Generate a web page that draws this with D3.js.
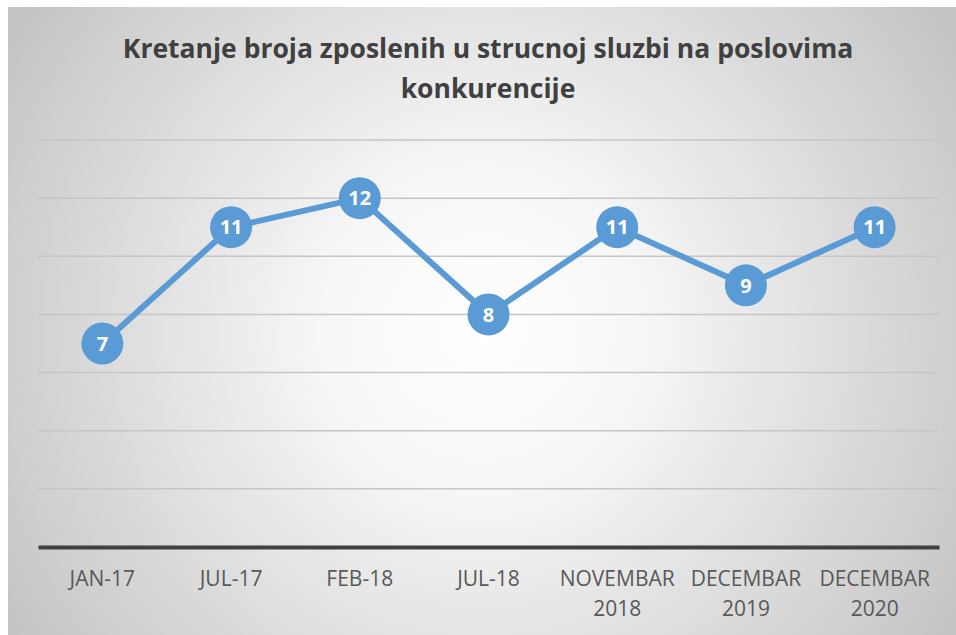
<!DOCTYPE html>
<html><head><meta charset="utf-8">
<script src="https://cdn.jsdelivr.net/npm/d3@7"></script>
<style>html,body{margin:0;padding:0;background:#fff;}svg{display:block;}</style>
</head><body>
<svg id="chart" width="956" height="635"></svg>
<script>
const titleLines = ["Kretanje broja zposlenih u strucnoj sluzbi na poslovima", "konkurencije"];
const categories = ["JAN-17", "JUL-17", "FEB-18", "JUL-18", "NOVEMBAR 2018", "DECEMBAR 2019", "DECEMBAR 2020"];
const values = [7, 11, 12, 8, 11, 9, 11];
const yTicks = [0, 2, 4, 6, 8, 10, 12, 14];

const svg = d3.select("#chart");
const defs = svg.append("defs");
const grad = defs.append("radialGradient").attr("id", "bg")
  .attr("gradientUnits", "userSpaceOnUse")
  .attr("cx", 482).attr("cy", 330).attr("r", 560);
grad.append("stop").attr("offset", "0").attr("stop-color", "#ffffff");
grad.append("stop").attr("offset", "0.28").attr("stop-color", "#f7f7f7");
grad.append("stop").attr("offset", "1").attr("stop-color", "#c4c4c4");

svg.append("rect").attr("x", 8).attr("y", 7).attr("width", 948).attr("height", 628).attr("fill", "url(#bg)");

const left = 38, right = 939;
const x = d3.scaleBand().domain(categories).range([left, right]);
const y = d3.scaleLinear().domain([0, 14]).range([547, 140]);

// title
const t = svg.append("text").attr("text-anchor", "middle")
  .attr("font-family", "Open Sans, sans-serif").attr("font-weight", "bold")
  .attr("font-size", 26.5).attr("fill", "#404040");
titleLines.forEach((l, i) => t.append("tspan").attr("x", 488).attr("y", 58 + i * 40).text(l));

// gridlines
svg.append("g").selectAll("line").data(yTicks.filter(d => d > 0)).join("line")
  .attr("x1", left).attr("x2", right)
  .attr("y1", d => y(d)).attr("y2", d => y(d))
  .attr("stroke", "#c6c6c6").attr("stroke-width", 1.5);

// x axis
const xAxis = svg.append("g").attr("transform", `translate(0,${y(0)})`)
  .call(d3.axisBottom(x).tickSize(0).tickFormat(""));
xAxis.select(".domain").attr("stroke", "#404040").attr("stroke-width", 4);

const lab = svg.append("g").selectAll("text").data(categories).join("text")
  .attr("text-anchor", "middle")
  .attr("font-family", "Open Sans, sans-serif").attr("font-size", 21).attr("fill", "#595959")
  .attr("transform", d => `translate(${x(d) + x.bandwidth() / 2},0)`);
lab.each(function(d) {
  const parts = d.split(" ");
  const sel = d3.select(this);
  parts.forEach((p, i) => sel.append("tspan").attr("x", 0).attr("y", 586 + i * 30).text(p));
});

// line
const line = d3.line().x((d, i) => x(categories[i]) + x.bandwidth() / 2).y(d => y(d));
svg.append("path").datum(values).attr("d", line)
  .attr("fill", "none").attr("stroke", "#5b9bd5").attr("stroke-width", 6).attr("stroke-linejoin", "round");

const pts = svg.append("g").selectAll("g").data(values).join("g")
  .attr("transform", (d, i) => `translate(${x(categories[i]) + x.bandwidth() / 2},${y(d)})`);
pts.append("circle").attr("r", 21).attr("fill", "#5b9bd5");
pts.append("text").attr("text-anchor", "middle").attr("dy", "0.36em")
  .attr("font-family", "Open Sans, sans-serif").attr("font-weight", "bold")
  .attr("font-size", 20).attr("fill", "#ffffff").text(d => d);
</script>
</body></html>
